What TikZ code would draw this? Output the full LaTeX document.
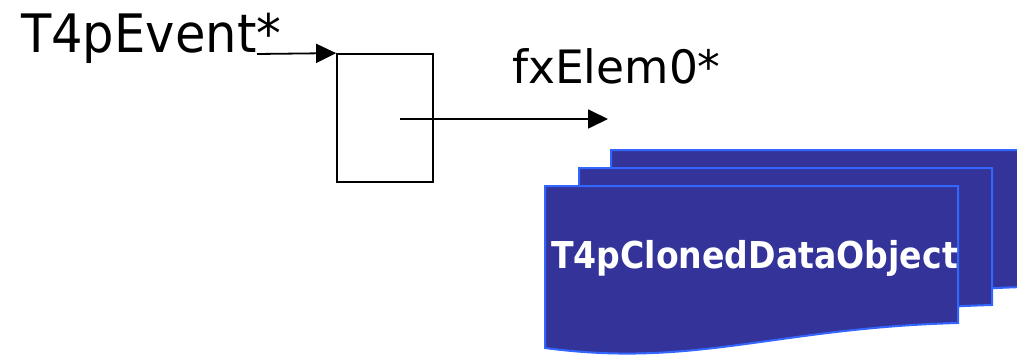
\documentclass[tikz,border=0pt]{standalone}
\usepackage{fontspec}
\setmainfont{DejaVu Sans}
\usetikzlibrary{arrows.meta}
\definecolor{docfill}{RGB}{51,51,153}
\definecolor{docedge}{RGB}{51,102,255}
\tikzset{
  ptr/.style={line width=1.8pt,-{Triangle[length=20pt,width=19pt]}},
  docshape/.style={fill=docfill,draw=docedge,line width=2pt},
  label/.style={inner sep=0pt,anchor=base west}
}
\newcommand{\docpath}[2]{%
  \path[docshape] (#1,#2) -- ++(413,0) -- ++(0,-137)
    .. controls ++(-183,-5) and ++(150,-20) .. ++(-413,-25) -- cycle;}
\begin{document}
\begin{tikzpicture}[x=1pt,y=1pt]
\useasboundingbox (0,0) rectangle (1017,-356);
% stacked documents
\docpath{611}{-150}
\docpath{579}{-168}
\docpath{545}{-186}
\node[label,text=white,font=\bfseries] (cloned) at (551,-268)
  {\fontsize{37}{40}\selectfont\scalebox{0.895}[1]{T4pClonedDataObject}};
% pointer box
\node[draw,line width=1.8pt,minimum width=96pt,minimum height=128pt,inner sep=0pt] (box) at (385,-118) {};
\node[label] (ev) at (21,-52) {\fontsize{53}{56}\selectfont\scalebox{0.935}[1]{T4pEvent*}};
\node[label] (fx) at (512,-83) {\fontsize{46}{50}\selectfont\scalebox{0.99}[1]{fxElem0*}};
\coordinate (evstart) at (257,-54);
\coordinate (inner) at (400,-119);
\coordinate (fxend) at (608,-119);
\draw[ptr] (evstart) -- (box.north west);
\draw[ptr] (inner) -- (fxend);
\end{tikzpicture}
\end{document}
